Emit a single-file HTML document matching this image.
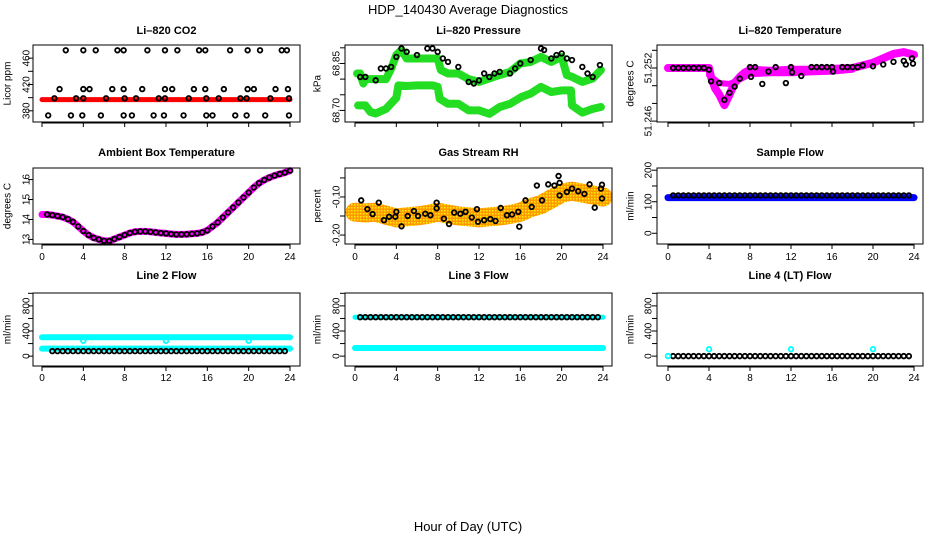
<!DOCTYPE html>
<html><head><meta charset="utf-8"><style>
html,body{margin:0;padding:0;background:#fff;}
svg{display:block;font-family:"Liberation Sans",sans-serif;}
</style></head><body>
<svg id="c" width="936" height="540" viewBox="0 0 936 540" xmlns="http://www.w3.org/2000/svg">
<defs>
<pattern id="rhpat" width="3" height="3" patternUnits="userSpaceOnUse"><rect width="3" height="3" fill="#ff9900"/><rect width="1.5" height="1.5" fill="#ffee00"/></pattern>
</defs>
<text x="468" y="14" text-anchor="middle" font-size="13">HDP_140430  Average Diagnostics</text>
<text x="468" y="531" text-anchor="middle" font-size="13">Hour of Day (UTC)</text>
</svg>
<script>
// ---- data ----
const xTicks = [0,4,8,12,16,20,24];
// CO2
const co2RedHours = [0,24];
const co2RedVals = [397,397];
const co2Hours = [2.3,4.0,5.2,7.3,7.9,10.2,11.9,13.1,15.2,15.8,18.2,19.9,21.1,23.2,23.7, 1.7,4.0,4.6,6.8,7.9,9.7,11.9,12.6,14.7,15.8,17.6,19.9,20.5,22.6,23.8, 1.2,3.3,4.0,6.2,8.0,9.1,11.3,11.9,14.2,15.9,17.1,19.2,19.8,22.1,23.9, 0.6,2.8,3.9,5.7,7.9,8.7,10.8,11.8,13.7,15.9,16.5,18.7,19.8,21.6,23.9];
const co2Vals = [472,472,472,472,472,472,472,472,472,472,472,472,472,472,472, 413,413,413,413,413,413,413,413,413,413,413,413,413,413,413, 399,399,399,399,399,399,399,399,399,399,399,399,399,399,399, 373,373,373,373,373,373,373,373,373,373,373,373,373,373,373];
const co2Ticks = [380,400,420,440,460];
const co2Labels = ["380","","420","","460"];
// Pressure
const presLowHours = [0.3,1,1.5,2,3,4,4.2,5,6,7,7.5,8,8.2,9,10,11,12,13,14,15,16.1,17,18,19,20,20.9,21,22,23,23.8];
const presLowVals = [68.716,68.716,68.695,68.69,68.705,68.74,68.78,68.778,68.78,68.78,68.78,68.775,68.737,68.721,68.721,68.70,68.70,68.689,68.711,68.721,68.743,68.754,68.775,68.759,68.764,68.764,68.716,68.693,68.705,68.711];
const presUpHours = [0.2,0.5,0.8,1,2,3,3.5,4,4.5,5,6,7,8,8.3,9,10,11,12,13,14,15,16,17,18,19,20,20.5,21,22,23,23.8];
const presUpVals = [68.818,68.818,68.786,68.80,68.80,68.80,68.834,68.877,68.893,68.866,68.866,68.866,68.866,68.829,68.818,68.818,68.80,68.791,68.802,68.813,68.823,68.85,68.855,68.871,68.855,68.871,68.813,68.807,68.791,68.802,68.829];
const presBlkHours = [0.5,1,2,2.5,3,3.5,4,4.5,5,6,7,7.5,8,8.5,9,10,11,11.5,12,12.5,13,13.5,14,15,15.5,16,17,18,18.3,19,19.5,20,20.5,21,22,22.5,23,23.7];
const presBlkVals = [68.807,68.807,68.796,68.834,68.834,68.839,68.871,68.898,68.887,68.877,68.898,68.898,68.887,68.866,68.855,68.839,68.791,68.786,68.796,68.818,68.807,68.818,68.823,68.818,68.834,68.85,68.861,68.898,68.893,68.866,68.877,68.882,68.866,68.861,68.839,68.818,68.807,68.845];
const presTicks = [68.70,68.75,68.80,68.85,68.90];
const presLabels = ["68.70","","","68.85",""];
// Li-820 temperature
const tmpMagHours = [0,1,2,3,4,4.2,4.6,5,5.5,6,6.5,7,7.5,8,10,12,14,16,18,19,20,21,22,23,24];
const tmpMagVals = [51.252,51.252,51.252,51.252,51.252,51.251,51.2497,51.249,51.2478,51.249,51.2503,51.251,51.2515,51.2518,51.2517,51.2518,51.2518,51.2519,51.252,51.2523,51.2526,51.2531,51.2536,51.2538,51.2535];
const tmpSpreadHours = [4,5,6,7,8,10,12,14,16,18];
const tmpSpreadVals = [51.2512,51.2503,51.2502,51.2507,51.2513,51.2514,51.2514,51.2515,51.2516,51.2518];
const tmpBlkHours = [0.5,1,1.5,2,2.5,3,3.5,4,4.2,5,5.5,6,6.5,7,8,8.1,8.5,9.2,9.8,10.5,11.5,12,12.1,13,14,14.5,15,15.5,16,16.1,17,17.5,18,18.5,19,20,21,22,23,23.2,23.8,23.9];
const tmpBlkVals = [51.252,51.252,51.252,51.252,51.252,51.252,51.252,51.2518,51.2505,51.2503,51.2484,51.2492,51.2499,51.2508,51.2521,51.251,51.2521,51.2502,51.2516,51.2521,51.2503,51.2521,51.2515,51.2511,51.2521,51.2521,51.2521,51.2521,51.2521,51.2516,51.2521,51.2521,51.2521,51.2521,51.2523,51.2522,51.2524,51.2527,51.2528,51.2524,51.2531,51.2525];
const tmpTicks = [51.246,51.248,51.250,51.252,51.254];
const tmpLabels = ["51.246","","","51.252",""];
// Ambient box temperature
const ambHours = [0,0.5,1,1.5,2,2.5,3,3.5,4,4.5,5,5.5,6,6.5,7,7.5,8,8.5,9,9.5,10,10.5,11,11.5,12,12.5,13,13.5,14,14.5,15,15.5,16,16.5,17,17.5,18,18.5,19,19.5,20,20.5,21,21.5,22,22.5,23,23.5,24];
const ambVals = [14.25,14.25,14.22,14.17,14.12,14.02,13.88,13.65,13.42,13.22,13.08,13.0,12.93,12.92,13.02,13.12,13.22,13.32,13.38,13.4,13.4,13.38,13.35,13.32,13.3,13.27,13.25,13.25,13.26,13.28,13.3,13.35,13.45,13.65,13.85,14.1,14.35,14.6,14.85,15.1,15.35,15.6,15.82,15.98,16.1,16.2,16.28,16.35,16.45];
const ambTicks = [13,14,15,16];
const ambLabels = ["13","14","15","16"];
// Gas stream RH
const rhBandHours = [0,1,2,3,4,5,6,7,8,9,10,11,12,13,14,15,16,17,18,19,20,21,22,23,24];
const rhBandVals = [-0.14,-0.142,-0.14,-0.148,-0.155,-0.152,-0.15,-0.146,-0.14,-0.145,-0.15,-0.152,-0.155,-0.152,-0.15,-0.146,-0.14,-0.128,-0.12,-0.105,-0.09,-0.085,-0.09,-0.095,-0.10];
const rhHours = [0.6,1.2,1.7,2.3,2.8,3.3,3.9,4.0,4.5,5.1,5.7,6.1,6.8,7.3,7.9,7.9,8.6,9.1,9.6,10.2,10.7,11.3,11.8,11.9,12.5,13.1,13.6,14.1,14.7,15.2,15.8,15.9,16.5,17.1,17.6,18.1,18.7,19.3,19.7,19.8,19.8,20.5,21.0,21.6,22.2,22.7,23.2,23.8,23.9,23.9];
const rhVals = [-0.109,-0.132,-0.145,-0.115,-0.161,-0.152,-0.152,-0.139,-0.177,-0.15,-0.137,-0.15,-0.144,-0.148,-0.13,-0.115,-0.157,-0.171,-0.141,-0.144,-0.139,-0.154,-0.132,-0.165,-0.161,-0.158,-0.163,-0.129,-0.148,-0.146,-0.139,-0.178,-0.109,-0.126,-0.07,-0.109,-0.067,-0.07,-0.045,-0.063,-0.096,-0.087,-0.078,-0.085,-0.092,-0.067,-0.128,-0.078,-0.104,-0.068];
const rhTicks = [-0.20,-0.15,-0.10,-0.05];
const rhLabels = ["-0.20","","-0.10",""];
// Sample flow
const sfBandHours = [0,24];
const sfBandVals = [113,113];
const sfBlkVals = [120];
const sfTicks = [0,50,100,150,200];
const sfLabels = ["0","","100","","200"];
// Line flows
const l2Cyan1 = [300];
const l2Cyan2 = [120];
const l2Black = [80];
const l2DipHours = [4,12,20];
const l2DipVals = [245,245,245];
const l3Cyan1 = [620];
const l3Cyan2 = [130];
const l3Black = [620];
const l4Black = [0];
const l4CyanHours = [0,4,12,20];
const l4CyanVals = [0,110,110,110];
const flowTicks = [0,200,400,600,800,1000];
const flowLabels = ["0","","400","","800",""];

// ---- drawing ----
const svg = document.getElementById('c');
const NS = 'http://www.w3.org/2000/svg';
function mk(tag, attrs, parent){ const e=document.createElementNS(NS,tag); for(const k in attrs) e.setAttribute(k,attrs[k]); (parent||svg).appendChild(e); return e; }
const cols = [{l:33,r:300,x0:42,x24:290,lab:27,tit:8},{l:345,r:612,x0:355,x24:603,lab:337,tit:318},{l:657,r:923,x0:668,x24:914,lab:649,tit:631}];
const rows = [{t:45,b:122,title:34,xl:null},{t:168,b:244,title:156,xl:260},{t:293,b:366,title:279,xl:381}];
function panel(name,ci,ri,title,ylab,ymin,ymax,ticks,labels){
  const c=cols[ci], r=rows[ri];
  const g=mk('g',{});
  
  
  const xs=h=>c.x0+(c.x24-c.x0)*h/24;
  const ys=v=>r.b-(v-ymin)/(ymax-ymin)*(r.b-r.t);
  const t=mk('text',{x:(c.l+c.r)/2,y:r.title,'text-anchor':'middle','font-size':11,'font-weight':'bold'},g); t.textContent=title;
  
  
  const yl=mk('text',{transform:`translate(${c.tit},${(r.t+r.b)/2}) rotate(-90)`,'text-anchor':'middle','font-size':10,'dominant-baseline':'central'},g); yl.textContent=ylab;
  
  
  const xa=mk('g',{},g);
  
  
  mk('line',{x1:c.x0,x2:c.x24,y1:r.b+1,y2:r.b+1,stroke:'#000'},xa);
  xTicks.forEach(h=>{ mk('line',{x1:xs(h),x2:xs(h),y1:r.b,y2:r.b+5,stroke:'#000'},xa);
    if(r.xl){ const tl=mk('text',{x:xs(h),y:r.xl,'text-anchor':'middle','font-size':10},xa); tl.textContent=h; } });
  const ya=mk('g',{},g);
  
  
  ticks.forEach((v,i)=>{ const y=ys(v); if(y<r.t-1||y>r.b+1) return;
    mk('line',{x1:c.l-5,x2:c.l,y1:y,y2:y,stroke:'#000'},ya);
    if(labels[i]){ const tl=mk('text',{transform:`translate(${c.lab},${y}) rotate(-90)`,'text-anchor':'middle','font-size':10,'dominant-baseline':'central'},ya); tl.textContent=labels[i]; } });
  const clipId='cl'+ci+ri;
  const cp=mk('clipPath',{id:clipId},g); mk('rect',{x:c.l,y:r.t-4,width:c.r-c.l,height:r.b-r.t+8},cp);
  const data=mk('g',{'clip-path':`url(#${clipId})`},g);
  mk('rect',{x:c.l,y:r.t,width:c.r-c.l,height:r.b-r.t,fill:'none',stroke:'#000'},g);
  return {xs,ys,g:data};
}
function band(p,hours,vals,color,w,name,dash){
  const pts=hours.map((h,i)=>p.xs(h).toFixed(1)+','+p.ys(vals[i]).toFixed(1)).join(' ');
  const e=mk('polyline',{points:pts,fill:'none',stroke:color,'stroke-width':w,'stroke-linejoin':'round','stroke-linecap':'round'},p.g);
  if(dash) e.setAttribute('stroke-dasharray',dash);
  
  
}
function pts(p,hours,vals,color,name,rad){
  hours.forEach((h,i)=>{
    const e=mk('circle',{cx:p.xs(h),cy:p.ys(vals[i]),r:rad||2.3,fill:'none',stroke:color,'stroke-width':1.8},p.g);
    
    
  });
}
const halfHours=[]; for(let h=0.5;h<=23.9;h+=0.5) halfHours.push(h);
function flat(p,val,color,name,startH){
  const hs=halfHours.filter(h=>h>=startH);
  pts(p,hs,hs.map(()=>val),color,name);
}

// CO2
let p=panel('co2',0,0,'Li\u2013820 CO2','Licor ppm',363,480,co2Ticks,co2Labels);
band(p,co2RedHours,co2RedVals,'#ff0000',5,'co2-red-band');
pts(p,co2Hours,co2Vals,'#000','co2-point');
// Pressure
p=panel('pressure',1,0,'Li\u2013820 Pressure','kPa',68.663,68.909,presTicks,presLabels);
band(p,presLowHours,presLowVals,'#22dd22',8,'pressure-green-low');
band(p,presUpHours,presUpVals,'#22dd22',8,'pressure-green-high');
pts(p,presBlkHours,presBlkVals,'#000','pressure-point');
// Temperature
p=panel('li820-temp',2,0,'Li\u2013820 Temperature','degrees C',51.2459,51.2546,tmpTicks,tmpLabels);
band(p,tmpSpreadHours,tmpSpreadVals,'#ff00ff',6,'temp-magenta-spread');
band(p,tmpMagHours,tmpMagVals,'#ff00ff',8,'temp-magenta-band');
pts(p,tmpBlkHours,tmpBlkVals,'#000','temp-point');
// Ambient
p=panel('ambient',0,1,'Ambient Box Temperature','degrees C',12.77,16.58,ambTicks,ambLabels);
band(p,ambHours,ambVals,'#ff00ff',7,'ambient-magenta-band');
pts(p,ambHours.slice(1),ambVals.slice(1),'#000','ambient-point');
// RH
p=panel('rh',1,1,'Gas Stream RH','percent',-0.2235,-0.024,rhTicks,rhLabels);
band(p,rhBandHours,rhBandVals,'url(#rhpat)',19,'rh-orange-band');
pts(p,rhHours,rhVals,'#000','rh-point');
// Sample flow
p=panel('sample-flow',2,1,'Sample Flow','ml/min',-34,207,sfTicks,sfLabels);
band(p,sfBandHours,sfBandVals,'#0000ff',7,'sample-flow-band');
flat(p,sfBlkVals[0],'#000','sample-flow-point',0.5);
// Line 2
p=panel('line2',0,2,'Line 2 Flow','ml/min',-157,1005,flowTicks,flowLabels);
band(p,[0,24],[l2Cyan1[0],l2Cyan1[0]],'#00ffff',6,'line2-cyan-high');
band(p,[0,24],[l2Cyan2[0],l2Cyan2[0]],'#00ffff',6,'line2-cyan-low');
pts(p,l2DipHours,l2DipVals,'#00ffff','line2-cyan-dip');
flat(p,l2Black[0],'#000','line2-point',1);
// Line 3
p=panel('line3',1,2,'Line 3 Flow','ml/min',-157,1005,flowTicks,flowLabels);
band(p,[0,24],[l3Cyan1[0],l3Cyan1[0]],'#00ffff',5,'line3-cyan-high');
band(p,[0,24],[l3Cyan2[0],l3Cyan2[0]],'#00ffff',6,'line3-cyan-low');
flat(p,l3Black[0],'#000','line3-point',0.5);
// Line 4
p=panel('line4',2,2,'Line 4 (LT) Flow','ml/min',-157,1005,flowTicks,flowLabels);
flat(p,l4Black[0],'#000','line4-point',0.5);
pts(p,l4CyanHours,l4CyanVals,'#00ffff','line4-cyan-point');
</script>
</body></html>
